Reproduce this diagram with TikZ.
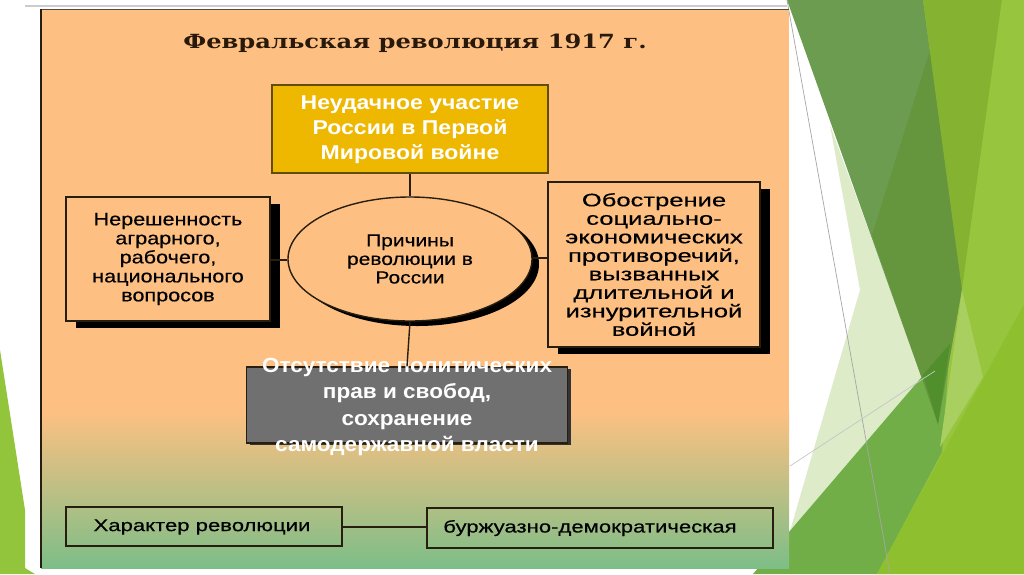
\documentclass[tikz,border=0pt]{standalone}
\usepackage{fontspec}
\usetikzlibrary{shapes.geometric,shadows}
\newfontfamily\boxf[FakeStretch=1.2,FakeBold=0.4]{Liberation Sans}
\newfontfamily\boxw[FakeStretch=1.42,FakeBold=0.4]{Liberation Sans}
\newfontfamily\boxb[FakeStretch=1.3,FakeBold=0.4]{Liberation Sans}
\newfontfamily\boxwb[FakeStretch=1.15]{Liberation Sans}
\newfontfamily\boxgb[FakeStretch=1.1]{Liberation Sans}
\newfontfamily\titlef[FakeStretch=1.24]{DejaVu Serif}
\definecolor{peach}{RGB}{254,192,130}
\definecolor{midC}{RGB}{218,192,128}
\definecolor{bgreen}{RGB}{125,190,135}
\definecolor{lineC}{RGB}{40,30,15}
\definecolor{goldC}{RGB}{238,183,0}
\definecolor{grayC}{RGB}{112,112,112}
\definecolor{titleC}{RGB}{40,25,10}
\definecolor{sliver}{RGB}{146,196,60}
\definecolor{gA}{RGB}{108,156,80}
\definecolor{gB}{RGB}{101,150,62}
\definecolor{gOlive}{RGB}{134,178,50}
\definecolor{gLime}{RGB}{151,197,62}
\definecolor{gBand}{RGB}{168,207,96}
\definecolor{gDark}{RGB}{80,143,44}
\definecolor{gMed}{RGB}{114,174,72}
\definecolor{gLimeB}{RGB}{142,191,47}
\definecolor{gPale}{RGB}{221,235,200}
\tikzset{
  sbox/.style={draw=lineC, line width=1.4pt, fill=peach, inner sep=2pt, align=center,
    drop shadow={shadow xshift=10pt, shadow yshift=-7pt, fill=black, opacity=1}},
  txt/.style={font=\boxf\fontsize{18}{19}\selectfont, text=black},
  wtxt/.style={font=\boxwb\bfseries\fontsize{20}{25}\selectfont, text=white, align=center},
  flatbox/.style={draw=lineC, line width=1.3pt, inner sep=2pt},
  conn/.style={draw=lineC, line width=1.4pt}
}
\begin{document}
\begin{tikzpicture}[x=1pt,y=-1pt]
\useasboundingbox (0,0) rectangle (1024,574);
\fill[white] (0,0) rectangle (1024,574);
% left green sliver
\fill[sliver] (0,350) -- (25,510) -- (25,568) -- (35,574) -- (0,574) -- cycle;
% right decoration
\fill[gLime] (923,0) -- (1024,0) -- (1024,574) -- (877,574) -- (940,420) -- cycle;
\fill[gPale] (830,125) -- (940,425) -- (790,531) -- (860,290) -- cycle;
\fill[gMed] (753,574) -- (950,344) -- (942,452) -- (877,574) -- cycle;
\fill[gLimeB] (877,574) -- (1024,304) -- (1024,574) -- cycle;
\fill[gA] (787,0) -- (923,0) -- (962,288) -- (938,424) -- cycle;
\fill[gB] (930,50) -- (962,288) -- (938,424) -- (872,235) -- cycle;
\fill[gDark] (923,375) -- (950,344) -- (938,424) -- cycle;
\fill[gOlive] (923,0) -- (1002,0) -- (962,290) -- cycle;
\fill[gLime] (1002,0) -- (1024,0) -- (1024,304) -- (983,377) -- (962,290) -- cycle;
\fill[gBand] (962,290) -- (983,377) -- (940,447) -- cycle;
\draw[gray!70, line width=0.7pt] (787,0) -- (890,574);
\draw[gray!45, line width=0.7pt] (790,466) -- (935,371);
% picture
\draw[gray!40, line width=2pt] (25,6) -- (787,6);
\fill[peach] (41,9) rectangle (789,412);
\shade[top color=peach, middle color=midC, bottom color=bgreen] (41,410) rectangle (789,568);
\draw[lineC!80, line width=0.6pt] (41,9) -- (789,9);
\draw[lineC, line width=1.5pt] (41,9) -- (41,568);
% title
\node[font=\titlef\bfseries\fontsize{19.5}{22}\selectfont, text=titleC] (title) at (415,43) {Февральская революция 1917 г.};
% boxes
\node[draw=lineC!70!goldC, line width=1.5pt, fill=goldC, minimum width=276pt, minimum height=88pt, inner sep=0pt] (war) at (410,129) {};
\node[wtxt] (wart) at (410,130) {Неудачное участие\\России в Первой\\Мировой войне};
\node[ellipse, draw=lineC, line width=1.4pt, fill=peach, minimum width=244pt, minimum height=124pt, inner sep=0pt, align=center,
  drop shadow={shadow xshift=7pt, shadow yshift=-5pt, fill=black, opacity=1}, txt, font=\boxf\fontsize{17.5}{18.5}\selectfont] (cause) at (410,259) {Причины\\революции в\\России};
\node[sbox, txt, minimum width=204pt, minimum height=124pt] (left) at (168,259) {Нерешенность\\аграрного,\\рабочего,\\национального\\вопросов};
\node[sbox, txt, minimum width=212pt, minimum height=165pt, font=\boxw\fontsize{18}{18.5}\selectfont] (right) at (654,264.5) {Обострение\\социально-\\экономических\\противоречий,\\вызванных\\длительной и\\изнурительной\\войной};
\node[draw=lineC, line width=1.4pt, fill=grayC, minimum width=321pt, minimum height=76pt, inner sep=0pt,
  drop shadow={shadow xshift=3pt, shadow yshift=-2pt, fill=black!80, opacity=1}] (gbox) at (407,405) {};
\node[wtxt, font=\boxgb\bfseries\fontsize{20.5}{26.5}\selectfont] (gtext) at (407,407) {Отсутствие политических\\прав и свобод,\\сохранение\\самодержавной власти};
\node[flatbox, minimum width=276pt, minimum height=39pt] (char) at (204,526.5) {};
\node[font=\boxb\fontsize{17}{19}\selectfont] (chart) at (202,527) {Характер революции};
\node[flatbox, minimum width=346pt, minimum height=40pt] (type) at (600,528) {};
\node[font=\boxb\fontsize{17}{19}\selectfont] (typet) at (590,528) {буржуазно-демократическая};
% connectors
\draw[conn] (war.south) -- (cause.north);
\draw[conn] (cause.south) -- (gbox.north);
\draw[conn] (left.east |- 0,260) -- (cause.west |- 0,260);
\draw[conn] (cause.east |- 0,258) -- (right.west |- 0,258);
\draw[conn] (char.east |- 0,527) -- (type.west |- 0,527);
\end{tikzpicture}
\end{document}
